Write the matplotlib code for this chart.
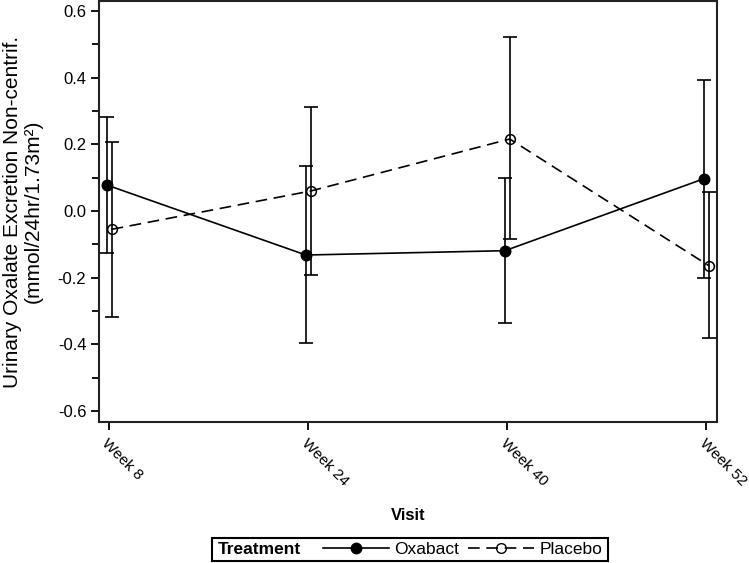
import matplotlib
matplotlib.use('Agg')
import matplotlib.pyplot as plt
from matplotlib.lines import Line2D
from matplotlib.patches import Rectangle
from matplotlib.ticker import MultipleLocator

# visits on the x axis
visits = ['Week 8', 'Week 24', 'Week 40', 'Week 52']

# Oxabact: mean and error bar ends
oxabact_mean = [0.078, -0.132, -0.119, 0.097]
oxabact_upper = [0.283, 0.136, 0.100, 0.392]
oxabact_lower = [-0.127, -0.397, -0.336, -0.200]

# Placebo: mean and error bar ends
placebo_mean = [-0.055, 0.060, 0.216, -0.164]
placebo_upper = [0.206, 0.313, 0.521, 0.056]
placebo_lower = [-0.318, -0.192, -0.084, -0.382]

plt.rcParams['font.family'] = ['Liberation Sans', 'DejaVu Sans']


def draw_group(ax, xs, mean, lower, upper, ls, face):
    yerr = [[m - lo for m, lo in zip(mean, lower)],
            [hi - m for m, hi in zip(mean, upper)]]
    # error bars are always solid
    ax.errorbar(xs, mean, yerr=yerr, fmt='none', ecolor='black',
                elinewidth=1.2, capsize=5, capthick=1.2, zorder=2)
    ax.plot(xs, mean, color='black', linestyle=ls, linewidth=1.2,
            marker='o', markersize=7.5 if face == 'black' else 7,
            markerfacecolor=face, markeredgecolor='black',
            markeredgewidth=1.1, zorder=3)


def main():
    fig = plt.figure(figsize=(7.49, 5.63), dpi=100)
    ax = fig.add_axes([0.1328, 0.2504, 0.8242, 0.7478])

    pos = list(range(len(visits)))
    shift = 0.012
    dash = (0, (7, 4))
    draw_group(ax, [p - shift for p in pos], oxabact_mean,
               oxabact_lower, oxabact_upper, '-', 'black')
    draw_group(ax, [p + shift for p in pos], placebo_mean,
               placebo_lower, placebo_upper, dash, 'none')

    ax.set_xlim(-0.049, 3.052)
    ax.set_ylim(-0.633, 0.63)
    ax.set_xticks(pos)
    ax.set_xticklabels(visits, rotation=-45, ha='left', va='top',
                       rotation_mode='anchor', fontsize=11)
    ax.yaxis.set_minor_locator(MultipleLocator(0.1))
    ax.set_yticks([-0.6, -0.4, -0.2, 0.0, 0.2, 0.4, 0.6])
    ax.set_yticklabels(['-0.6', '-0.4', '-0.2', '0.0', '0.2', '0.4', '0.6'],
                       fontsize=12)
    ax.tick_params(which='major', length=6, width=1.3, direction='out')
    ax.tick_params(which='minor', length=5, width=1.3, direction='out')
    ax.tick_params(axis='x', pad=4)
    for s in ax.spines.values():
        s.set_linewidth(1.5)
        s.set_color('#222222')

    # axis titles
    fig.text(0.031, 0.624, 'Urinary Oxalate Excretion Non-centrif.\n(mmol/24hr/1.73m²)',
             rotation=90, ha='center', va='center', multialignment='center',
             fontsize=15, linespacing=1.1)
    fig.text(0.545, 0.085, 'Visit', ha='center', va='center',
             fontsize=12, fontweight='bold')

    # legend box at the bottom
    fig.patches.append(Rectangle((0.283, 0.0036), 0.529, 0.041,
                                 transform=fig.transFigure, fill=False,
                                 edgecolor='black', linewidth=1.5))
    fig.text(0.291, 0.024, 'Treatment', ha='left', va='center',
             fontsize=12.5, fontweight='bold')
    handles = [
        Line2D([], [], color='black', linestyle='-', linewidth=1.2,
               marker='o', markersize=7.5, markerfacecolor='black'),
        Line2D([], [], color='black', linestyle=dash, linewidth=1.2,
               marker='o', markersize=7, markerfacecolor='none'),
    ]
    fig.legend(handles, ['Oxabact', 'Placebo'], ncol=2, frameon=False,
               loc='center left', bbox_to_anchor=(0.431, 0.024),
               borderpad=0, borderaxespad=0, fontsize=12.5,
               handlelength=3.8, handletextpad=0.3, columnspacing=0.55)

    fig.savefig('out.png', dpi=100)


if __name__ == '__main__':
    main()
